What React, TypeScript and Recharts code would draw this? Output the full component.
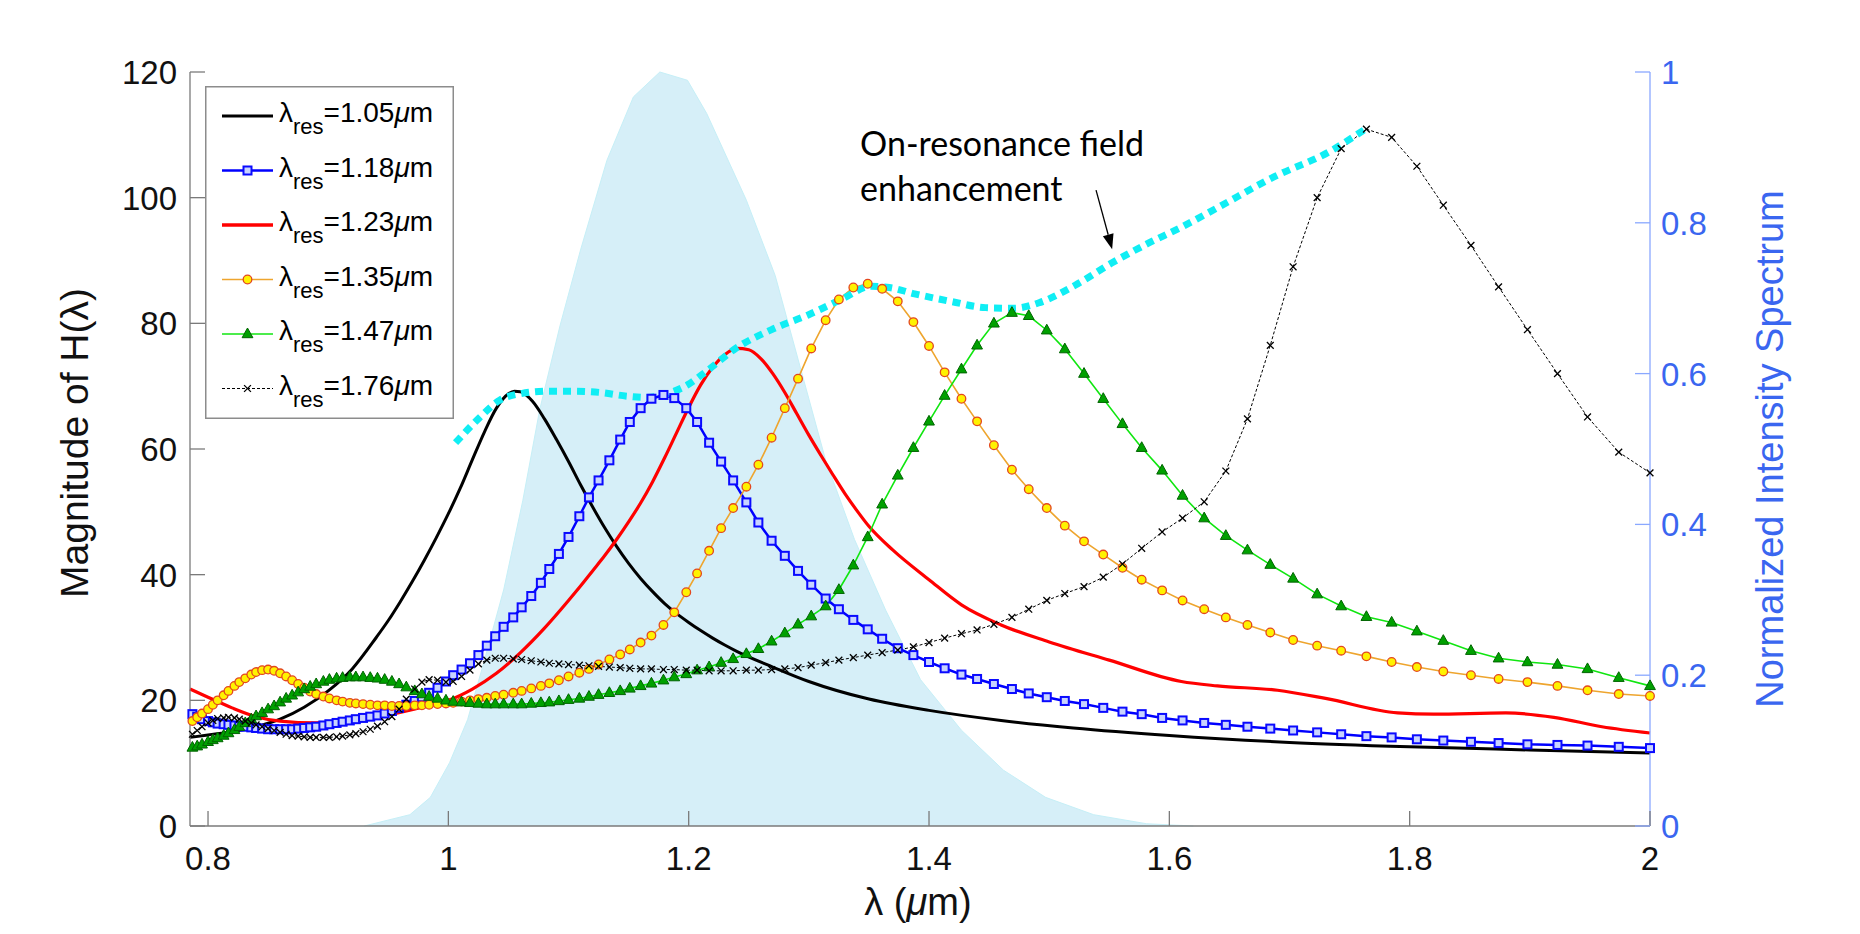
import React from 'react';
import { ComposedChart, Line, Area, XAxis, YAxis, Legend, ReferenceLine } from 'recharts';

// ---------- data ----------
const X_TICKS = [0.8, 1, 1.2, 1.4, 1.6, 1.8, 2];
const Y_TICKS = [0, 20, 40, 60, 80, 100, 120];
const R_TICKS = [0, 0.2, 0.4, 0.6, 0.8, 1];

// shared wavelength grid of the marker series (um)
const GRID = [
  0.787, 0.791, 0.795, 0.800, 0.804, 0.808, 0.813, 0.817, 0.822, 0.826,
  0.831, 0.836, 0.840, 0.845, 0.850, 0.855, 0.860, 0.865, 0.870, 0.875,
  0.880, 0.885, 0.890, 0.896, 0.901, 0.907, 0.912, 0.918, 0.923, 0.929,
  0.935, 0.941, 0.947, 0.953, 0.959, 0.965, 0.972, 0.978, 0.984, 0.991,
  0.998, 1.004, 1.011, 1.018, 1.025, 1.032, 1.039, 1.046, 1.054, 1.061,
  1.069, 1.077, 1.084, 1.092, 1.100, 1.109, 1.117, 1.125, 1.134, 1.143,
  1.151, 1.160, 1.169, 1.179, 1.188, 1.198, 1.207, 1.217, 1.227, 1.237,
  1.248, 1.258, 1.269, 1.280, 1.291, 1.302, 1.314, 1.325, 1.337, 1.349,
  1.361, 1.374, 1.387, 1.400, 1.413, 1.427, 1.440, 1.454, 1.469, 1.483,
  1.498, 1.513, 1.529, 1.545, 1.561, 1.577, 1.594, 1.611, 1.629, 1.647,
  1.665, 1.684, 1.703, 1.723, 1.743, 1.764, 1.785, 1.806, 1.828, 1.851,
  1.874, 1.898, 1.923, 1.948, 1.974, 2.000,
];

const BLUE_118 = [
  17.8, 17.4, 17.0, 16.7, 16.5, 16.3, 16.2, 16.1, 16.0, 15.9,
  15.8, 15.7, 15.6, 15.5, 15.4, 15.4, 15.4, 15.4, 15.4, 15.5,
  15.6, 15.7, 15.8, 16.0, 16.2, 16.4, 16.6, 16.8, 17.0, 17.2,
  17.4, 17.6, 17.9, 18.3, 18.8, 19.3, 19.9, 20.5, 21.2, 22.0,
  23.0, 24.0, 24.9, 25.9, 27.2, 28.7, 30.2, 31.7, 33.2, 34.8,
  36.6, 38.7, 40.9, 43.3, 46.0, 49.3, 52.3, 55.0, 58.2, 61.5,
  64.3, 66.5, 68.0, 68.6, 68.1, 66.5, 64.3, 61.0, 58.0, 55.0,
  51.5, 48.3, 45.4, 43.0, 40.6, 38.4, 36.2, 34.5, 32.8, 31.3,
  29.8, 28.3, 27.2, 26.1, 25.1, 24.1, 23.4, 22.6, 21.8, 21.1,
  20.5, 19.9, 19.4, 18.8, 18.2, 17.8, 17.2, 16.8, 16.4, 16.1,
  15.8, 15.5, 15.2, 14.9, 14.6, 14.3, 14.1, 13.8, 13.6, 13.4,
  13.2, 13.0, 12.9, 12.8, 12.6, 12.4,
];

const ORANGE_135 = [
  16.7, 17.3, 17.9, 18.6, 19.3, 20.0, 20.8, 21.5, 22.3, 22.9,
  23.5, 24.1, 24.5, 24.8, 24.9, 24.7, 24.3, 23.8, 23.2, 22.6,
  22.0, 21.4, 21.0, 20.6, 20.3, 20.0, 19.8, 19.6, 19.5, 19.4,
  19.3, 19.2, 19.2, 19.1, 19.1, 19.1, 19.2, 19.2, 19.3, 19.4,
  19.5, 19.6, 19.8, 20.0, 20.2, 20.4, 20.7, 20.9, 21.2, 21.5,
  21.9, 22.3, 22.7, 23.2, 23.8, 24.4, 25.0, 25.7, 26.5, 27.3,
  28.1, 29.2, 30.3, 32.0, 34.0, 37.2, 40.2, 43.8, 47.4, 50.6,
  54.0, 57.5, 61.8, 66.5, 71.2, 76.0, 80.5, 83.8, 85.7, 86.3,
  85.5, 83.5, 80.2, 76.4, 72.2, 68.0, 64.4, 60.6, 56.7, 53.6,
  50.6, 47.8, 45.3, 43.2, 41.1, 39.2, 37.5, 35.9, 34.5, 33.2,
  32.0, 30.8, 29.6, 28.7, 27.9, 27.0, 26.1, 25.3, 24.6, 24.0,
  23.4, 22.9, 22.3, 21.6, 21.0, 20.7,
];

const GREEN_147 = [
  12.5, 12.7, 13.0, 13.4, 13.7, 14.0, 14.4, 14.8, 15.3, 15.8,
  16.4, 17.0, 17.5, 18.0, 18.6, 19.1, 19.7, 20.3, 20.8, 21.3,
  21.8, 22.2, 22.6, 23.0, 23.3, 23.5, 23.6, 23.7, 23.7, 23.7,
  23.6, 23.5, 23.3, 23.0, 22.6, 22.1, 21.5, 21.0, 20.6, 20.3,
  20.0, 19.8, 19.7, 19.6, 19.5, 19.4, 19.4, 19.4, 19.4, 19.4,
  19.5, 19.6, 19.7, 19.9, 20.1, 20.3, 20.6, 20.9, 21.2, 21.5,
  21.9, 22.3, 22.7, 23.2, 23.7, 24.2, 24.8, 25.3, 26.0, 26.6,
  27.4, 28.2, 29.4, 30.7, 32.1, 33.4, 35.0, 37.6, 41.5, 46.0,
  51.2, 55.8, 60.2, 64.4, 68.5, 72.7, 76.5, 80.0, 81.7, 81.2,
  78.9, 75.9, 72.0, 68.0, 64.0, 60.2, 56.6, 52.6, 49.0, 46.2,
  43.9, 41.6, 39.4, 36.9, 35.0, 33.3, 32.4, 31.0, 29.5, 27.9,
  26.7, 26.1, 25.7, 25.0, 23.6, 22.3,
];

const BLACKX_176 = [
  14.6, 15.2, 15.8, 16.4, 16.8, 17.1, 17.2, 17.3, 17.2, 17.0,
  16.7, 16.4, 16.1, 15.8, 15.5, 15.2, 14.9, 14.6, 14.4, 14.3,
  14.2, 14.1, 14.1, 14.1, 14.1, 14.2, 14.3, 14.5, 14.7, 15.0,
  15.4, 15.9, 16.6, 17.4, 18.6, 20.2, 21.8, 22.9, 23.3, 23.2,
  22.9, 23.0, 23.8, 24.8, 25.8, 26.4, 26.7, 26.7, 26.6, 26.5,
  26.3, 26.1, 25.9, 25.8, 25.7, 25.6, 25.5, 25.4, 25.3, 25.2,
  25.1, 25.0, 25.0, 24.9, 24.9, 24.8, 24.8, 24.7, 24.7, 24.7,
  24.8, 24.8, 24.9, 25.0, 25.2, 25.6, 26.0, 26.4, 26.8, 27.2,
  27.6, 28.0, 28.5, 29.2, 29.9, 30.6, 31.2, 32.1, 33.2, 34.5,
  35.9, 37.0, 38.1, 39.6, 41.7, 44.2, 46.8, 49.0, 51.6, 56.5,
  64.8, 76.5, 89.0, 100.0, 107.8, 110.9, 109.6, 105.0, 98.8, 92.4,
  85.8, 79.0, 72.0, 65.1, 59.5, 56.2,
];

// black solid curve (lambda_res = 1.05 um)
const BLACK_X = [0.785, 0.8, 0.82, 0.84, 0.86, 0.88, 0.9, 0.92, 0.94, 0.95, 0.96, 0.97, 0.98, 0.99, 1.0, 1.01, 1.02, 1.03, 1.04, 1.05, 1.055, 1.06, 1.07, 1.08, 1.09, 1.1, 1.11, 1.12, 1.13, 1.14, 1.15, 1.16, 1.17, 1.18, 1.19, 1.2, 1.21, 1.22, 1.23, 1.24, 1.27, 1.3, 1.35, 1.4, 1.46, 1.52, 1.6, 1.7, 1.8, 1.9, 2.0];
const BLACK_Y = [14.1, 14.5, 15.0, 15.8, 17.0, 18.9, 21.5, 25.0, 30.0, 32.7, 35.7, 38.9, 42.3, 45.9, 49.7, 53.8, 58.3, 62.7, 66.5, 68.8, 69.2, 69.1, 67.6, 64.8, 61.5, 58.0, 54.3, 50.8, 47.5, 44.5, 41.8, 39.4, 37.3, 35.4, 33.8, 32.4, 31.1, 29.9, 28.8, 27.8, 25.3, 23.0, 20.2, 18.4, 16.8, 15.6, 14.4, 13.3, 12.6, 12.1, 11.6];

// red solid curve (lambda_res = 1.23 um)
const RED_X = [0.785, 0.8, 0.82, 0.84, 0.86, 0.89, 0.92, 0.95, 0.98, 1.0, 1.02, 1.04, 1.06, 1.08, 1.1, 1.11, 1.12, 1.13, 1.14, 1.15, 1.16, 1.17, 1.18, 1.19, 1.2, 1.21, 1.22, 1.23, 1.24, 1.25, 1.26, 1.27, 1.28, 1.29, 1.3, 1.31, 1.32, 1.33, 1.34, 1.35, 1.37, 1.4, 1.427, 1.46, 1.5, 1.55, 1.61, 1.64, 1.69, 1.73, 1.79, 1.82, 1.88, 1.92, 1.96, 2.0];
const RED_Y = [21.8, 20.5, 18.8, 17.4, 16.7, 16.4, 16.8, 17.7, 19.0, 20.0, 21.8, 24.3, 27.6, 31.5, 35.9, 38.2, 40.6, 43.0, 45.6, 48.4, 51.4, 54.8, 58.6, 62.6, 66.6, 70.2, 73.0, 75.0, 76.0, 75.8, 74.4, 72.0, 69.0, 65.6, 62.2, 59.0, 55.9, 52.9, 50.2, 47.7, 43.9, 39.2, 35.2, 32.0, 29.3, 26.4, 23.0, 22.3, 21.6, 20.3, 18.0, 17.8, 18.0, 17.3, 15.8, 14.8];

// on-resonance field enhancement envelope
const ENV_X = [1.006, 1.026, 1.043, 1.06, 1.082, 1.104, 1.126, 1.149, 1.165, 1.182, 1.199, 1.215, 1.239, 1.269, 1.299, 1.328, 1.352, 1.367, 1.388, 1.418, 1.447, 1.471, 1.492, 1.522, 1.552, 1.581, 1.611, 1.641, 1.687, 1.733, 1.763];
const ENV_Y = [61.0, 65.0, 67.8, 68.8, 69.2, 69.2, 69.0, 68.4, 68.2, 68.8, 70.2, 72.4, 76.0, 79.0, 81.3, 83.9, 85.9, 85.7, 84.7, 83.5, 82.5, 82.4, 83.3, 86.1, 89.6, 92.6, 95.4, 98.5, 103.3, 107.3, 110.9];

// normalized intensity spectrum (right axis)
const SPEC_X = [0.93, 0.968, 0.985, 1.001, 1.016, 1.029, 1.046, 1.062, 1.076, 1.093, 1.11, 1.132, 1.154, 1.176, 1.199, 1.215, 1.248, 1.272, 1.296, 1.314, 1.338, 1.364, 1.393, 1.427, 1.462, 1.497, 1.537, 1.581, 1.62];
const SPEC_Y = [0, 0.015, 0.038, 0.084, 0.141, 0.214, 0.313, 0.432, 0.552, 0.664, 0.764, 0.883, 0.967, 1.0, 0.989, 0.945, 0.83, 0.73, 0.59, 0.485, 0.38, 0.286, 0.194, 0.127, 0.074, 0.038, 0.015, 0.003, 0];

const LEGEND_LABELS = ['1.05', '1.18', '1.23', '1.35', '1.47', '1.76'];

// ---------- style ----------
const W = 1844;
const H = 918;
const FONT = "'Liberation Sans', Arial, Helvetica, sans-serif";
const NOTE_FONT = "Lato, 'Open Sans', sans-serif";
const GREY = '#7a7a7a';
const RBLUE = '#3a66f0';
const RAXIS = '#8aa8ff';
const C_BLACK = '#000000';
const C_BLUE = '#0000ff';
const C_RED = '#ff0000';
const C_ORANGE = '#eea52e';
const C_GREEN = '#10e610';
const C_CYAN = '#10eef4';

const Square = ({ cx, cy }: any) => (
  <rect x={cx - 4} y={cy - 4} width={8} height={8} fill="#c8d3ff" stroke="#0a0aff" strokeWidth={2} />
);
const Circ = ({ cx, cy }: any) => (
  <circle cx={cx} cy={cy} r={4.3} fill="#fff200" stroke="#e3471e" strokeWidth={1.3} />
);
const Tri = ({ cx, cy }: any) => (
  <polygon points={`${cx},${cy - 6} ${cx + 5.4},${cy + 3.7} ${cx - 5.4},${cy + 3.7}`} fill="#00a000" stroke="#006400" strokeWidth={1} />
);
const Cross = ({ cx, cy }: any) => (
  <g stroke="#000" strokeWidth={1.3}>
    <line x1={cx - 3.4} y1={cy - 3.4} x2={cx + 3.4} y2={cy + 3.4} />
    <line x1={cx - 3.4} y1={cy + 3.4} x2={cx + 3.4} y2={cy - 3.4} />
  </g>
);

const LEG_STYLE = [
  { stroke: C_BLACK, width: 3, dash: undefined as string | undefined, Mark: null as any },
  { stroke: C_BLUE, width: 2.5, dash: undefined, Mark: Square },
  { stroke: C_RED, width: 3.5, dash: undefined, Mark: null },
  { stroke: C_ORANGE, width: 1.6, dash: undefined, Mark: Circ },
  { stroke: C_GREEN, width: 1.6, dash: undefined, Mark: Tri },
  { stroke: C_BLACK, width: 1, dash: '3 2', Mark: Cross },
];

function LegendBox() {
  return (
    <svg width={249} height={333} style={{ display: 'block' }}>
      <rect x={0.75} y={0.75} width={247.5} height={331.5} fill="#fff" stroke="#8c8c8c" strokeWidth={1.5} />
      {LEGEND_LABELS.map((lab, i) => {
        const cy = 30 + 54.5 * i;
        const s = LEG_STYLE[i];
        const M = s.Mark;
        return (
          <g key={lab}>
            <line x1={17} y1={cy} x2={68} y2={cy} stroke={s.stroke} strokeWidth={s.width} strokeDasharray={s.dash} />
            {M ? <M cx={42.5} cy={cy} /> : null}
            <text x={74} y={cy + 6} fontSize={28} fontFamily={FONT} fill="#000">
              λ<tspan fontSize={22} dy={12}>res</tspan>
              <tspan dy={-12}>={lab}</tspan>
              <tspan fontStyle="italic">μ</tspan>m
            </text>
          </g>
        );
      })}
    </svg>
  );
}

const BottomTick = (p: any) => (
  <g>
    <line x1={p.x} y1={p.y} x2={p.x} y2={p.y - 15} stroke={GREY} strokeWidth={1.3} />
    <text x={p.x} y={p.y + 44} textAnchor="middle" fontSize={33} fontFamily={FONT} fill="#111">{String(p.payload.value)}</text>
  </g>
);
const TopTick = (p: any) => (
  <line x1={p.x} y1={p.y} x2={p.x} y2={p.y + 15} stroke={GREY} strokeWidth={1.3} />
);
const LeftTick = (p: any) => (
  <g>
    <line x1={p.x} y1={p.y} x2={p.x + 15} y2={p.y} stroke={GREY} strokeWidth={1.3} />
    <text x={p.x - 13} y={p.y + 12} textAnchor="end" fontSize={33} fontFamily={FONT} fill="#111">{String(p.payload.value)}</text>
  </g>
);
const RightTick = (p: any) => (
  <g>
    <line x1={p.x} y1={p.y} x2={p.x - 15} y2={p.y} stroke={RAXIS} strokeWidth={1.3} />
    <text x={p.x + 11} y={p.y + 12} textAnchor="start" fontSize={33} fontFamily={FONT} fill={RBLUE}>{String(p.payload.value)}</text>
  </g>
);

const XLabel = (p: any) => {
  const vb = p.viewBox || {};
  return (
    <text x={vb.x + vb.width / 2 - 2} y={vb.y + 89} textAnchor="middle" fontSize={38} fontFamily={FONT} fill="#111">
      λ (<tspan fontStyle="italic">μ</tspan>m)
    </text>
  );
};
const YLabel = (p: any) => {
  const vb = p.viewBox || {};
  const x = vb.x + 58;
  const y = vb.y + vb.height / 2 - 6;
  return (
    <text x={x} y={y} transform={`rotate(-90 ${x} ${y})`} textAnchor="middle" fontSize={39} fontFamily={FONT} fill="#111">
      Magnitude of H(λ)
    </text>
  );
};
const RLabel = (p: any) => {
  const vb = p.viewBox || {};
  const x = vb.x + 133;
  const y = vb.y + vb.height / 2;
  return (
    <text x={x} y={y} transform={`rotate(-90 ${x} ${y})`} textAnchor="middle" fontSize={38} fontFamily={FONT} fill={RBLUE}>
      Normalized Intensity Spectrum
    </text>
  );
};

const ArrowNote = (p: any) => {
  const { x1, y1, x2, y2 } = p;
  const dx = x2 - x1;
  const dy = y2 - y1;
  const len = Math.sqrt(dx * dx + dy * dy) || 1;
  const ux = dx / len;
  const uy = dy / len;
  const hl = 15;
  const hw = 5.5;
  const bx = x2 - ux * hl;
  const by = y2 - uy * hl;
  return (
    <g>
      <line x1={x1} y1={y1} x2={bx} y2={by} stroke="#000" strokeWidth={1.3} />
      <polygon points={`${x2},${y2} ${bx - uy * hw},${by + ux * hw} ${bx + uy * hw},${by - ux * hw}`} fill="#000" />
      <text x={x1 - 236} y={y1 - 34} fontSize={34} fontFamily={NOTE_FONT} fill="#000">On-resonance field</text>
      <text x={x1 - 236} y={y1 + 11} fontSize={34} fontFamily={NOTE_FONT} fill="#000">enhancement</text>
    </g>
  );
};

const dotOf = (Shape: any) => (p: any) => <Shape key={`d${p.index}`} cx={p.cx} cy={p.cy} />;

export default function App() {
  const spectrum = SPEC_X.map((x, i) => ({ x, s: SPEC_Y[i] }));
  const black = BLACK_X.map((x, i) => ({ x, y: BLACK_Y[i] }));
  const red = RED_X.map((x, i) => ({ x, y: RED_Y[i] }));
  const env = ENV_X.map((x, i) => ({ x, y: ENV_Y[i] }));
  const blue = GRID.map((x, i) => ({ x, y: BLUE_118[i] }));
  const orange = GRID.map((x, i) => ({ x, y: ORANGE_135[i] }));
  const green = GRID.map((x, i) => ({ x, y: GREEN_147[i] }));
  const blackx = GRID.map((x, i) => ({ x, y: BLACKX_176[i] }));

  return (
    <div style={{ width: W, height: H, position: 'relative', background: '#fff' }}>
      <ComposedChart width={W} height={H} data={spectrum} margin={{ top: 64, right: 62, bottom: 30, left: 22 }}>
        <XAxis
          xAxisId={0}
          dataKey="x"
          type="number"
          domain={[0.785, 2]}
          ticks={X_TICKS}
          interval={0}
          height={70}
          tickSize={0}
          tickMargin={0}
          tickLine={false}
          axisLine={{ stroke: GREY, strokeWidth: 1.3 }}
          tick={BottomTick}
          label={XLabel}
        />
        <XAxis
          xAxisId="top"
          orientation="top"
          dataKey="x"
          type="number"
          domain={[0.785, 2]}
          allowDataOverflow
          ticks={X_TICKS}
          interval={0}
          height={0}
          tickSize={0}
          tickMargin={0}
          tickLine={false}
          axisLine={{ stroke: GREY, strokeWidth: 1.3 }}
          tick={TopTick}
        />
        <YAxis
          yAxisId="left"
          orientation="left"
          type="number"
          domain={[0, 120]}
          ticks={Y_TICKS}
          interval={0}
          width={160}
          tickSize={0}
          tickMargin={0}
          tickLine={false}
          axisLine={{ stroke: GREY, strokeWidth: 1.3 }}
          tick={LeftTick}
          label={YLabel}
        />
        <YAxis
          yAxisId="right"
          orientation="right"
          type="number"
          domain={[0, 1]}
          ticks={R_TICKS}
          interval={0}
          width={140}
          tickSize={0}
          tickMargin={0}
          tickLine={false}
          axisLine={{ stroke: RAXIS, strokeWidth: 1.3 }}
          tick={RightTick}
          label={RLabel}
        />
        <Area
          yAxisId="right"
          dataKey="s"
          type="linear"
          fill="#d6eff8"
          fillOpacity={1}
          stroke="#c6eff7"
          strokeWidth={1}
          isAnimationActive={false}
          dot={false}
          activeDot={false}
        />
        <Line yAxisId="left" data={black} dataKey="y" type="monotone" stroke={C_BLACK} strokeWidth={3} dot={false} activeDot={false} isAnimationActive={false} />
        <Line yAxisId="left" data={blue} dataKey="y" type="linear" stroke={C_BLUE} strokeWidth={2.5} dot={dotOf(Square)} activeDot={false} isAnimationActive={false} />
        <Line yAxisId="left" data={red} dataKey="y" type="monotone" stroke={C_RED} strokeWidth={3.2} dot={false} activeDot={false} isAnimationActive={false} />
        <Line yAxisId="left" data={orange} dataKey="y" type="linear" stroke={C_ORANGE} strokeWidth={1.6} dot={dotOf(Circ)} activeDot={false} isAnimationActive={false} />
        <Line yAxisId="left" data={green} dataKey="y" type="linear" stroke={C_GREEN} strokeWidth={1.6} dot={dotOf(Tri)} activeDot={false} isAnimationActive={false} />
        <Line yAxisId="left" data={blackx} dataKey="y" type="linear" stroke={C_BLACK} strokeWidth={1} strokeDasharray="3 2" dot={dotOf(Cross)} activeDot={false} isAnimationActive={false} />
        <Line yAxisId="left" data={env} dataKey="y" type="monotone" stroke={C_CYAN} strokeWidth={7} strokeDasharray="8 6" dot={false} activeDot={false} isAnimationActive={false} />
        <ReferenceLine
          xAxisId={0}
          yAxisId="left"
          segment={[{ x: 1.539, y: 101.2 }, { x: 1.5524, y: 91.8 }]}
          ifOverflow="visible"
          shape={ArrowNote}
        />
        <Legend
          layout="vertical"
          align="center"
          verticalAlign="middle"
          wrapperStyle={{ left: 197, top: 78, width: 249, height: 333 }}
          content={() => <LegendBox />}
        />
      </ComposedChart>
    </div>
  );
}
